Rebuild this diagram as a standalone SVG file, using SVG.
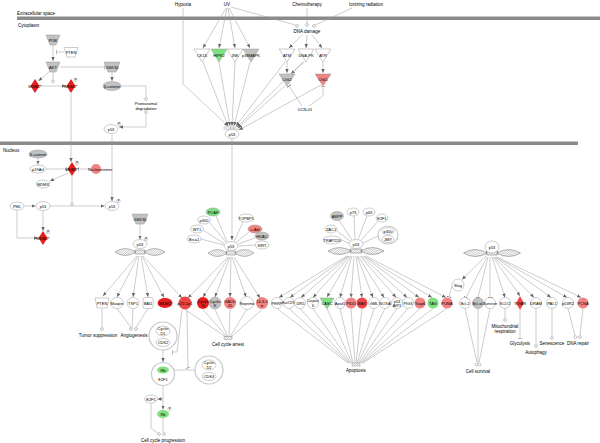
<svg xmlns="http://www.w3.org/2000/svg" width="600" height="443" viewBox="0 0 600 443">
<style>
text{font-family:"Liberation Sans",Arial,sans-serif;font-size:4.5px;fill:#000;text-anchor:middle;dominant-baseline:central}
.s{font-size:4px}
.xs{font-size:2.6px}
.xx{font-size:3px}
.st{text-anchor:start}
.n{fill:#fff;stroke:#9a9a9a;stroke-width:0.5}
.gy{fill:#c2c2c2}
.rd{fill:#e61e1e}
.rm{fill:#ee4747}
.rl{fill:#f28383}
.gn{fill:#7fe27f}
.cx{fill:#fff;stroke:#c8c8c8;stroke-width:1.2}
#connectors path{fill:none;stroke:#9a9a9a;stroke-width:0.5}
.a{marker-end:url(#ar)}
.t{marker-end:url(#tb)}
.mem{fill:#8a8a8a}
.dot{fill:#fff;stroke:#888;stroke-width:0.5}
.pb{fill:#fff;stroke:#999;stroke-width:0.4}
.box{fill:url(#h);stroke:#888;stroke-width:0.4}
</style>
<defs>
<marker id="ar" markerWidth="4" markerHeight="4" refX="4" refY="2" orient="auto" markerUnits="userSpaceOnUse"><path d="M0,0.3 L4,2 L0,3.7 Z" fill="#666"/></marker>
<marker id="tb" markerWidth="1" markerHeight="5" refX="0.5" refY="2.5" orient="auto" markerUnits="userSpaceOnUse"><path d="M0.5,0 V5" stroke="#666" stroke-width="0.8"/></marker>
<pattern id="h" width="1.6" height="1.6" patternUnits="userSpaceOnUse" patternTransform="rotate(45)"><line x1="0" y1="0" x2="0" y2="1.6" stroke="#666" stroke-width="0.55"/></pattern>
<g id="dna"><path d="M-25,0 Q-15,-7 -4,0 Q-15,7 -25,0Z M25,0 Q15,-7 4,0 Q15,7 25,0Z M-5,-2 H5 V2 H-5Z" fill="url(#h)" stroke="#666" stroke-width="0.45"/></g>
</defs>
<rect width="600" height="443" fill="#fff"/>
<!-- membranes -->
<rect class="mem" x="17" y="16.5" width="583" height="3.5"/>
<rect class="mem" x="0" y="141.5" width="578" height="3.5"/>
<text class="st" x="17" y="13">Extracellular space</text>
<text class="st" x="18" y="25">Cytoplasm</text>
<text class="st" x="3" y="150">Nucleus</text>

<g id="connectors">
<path class="a" d="M183,8 V84 L228,126"/>
<path class="a" d="M226,8 L203,48"/>
<path class="a" d="M227,8 L219,48"/>
<path class="a" d="M228,8 L235,48"/>
<path class="a" d="M229,8 L250,48"/>
<path d="M231,7 L295.5,25"/>
<path d="M307,8 V23.5"/>
<path d="M352,8 L315.3,25"/>
<path class="a" d="M302,35 L289,48"/>
<path class="a" d="M307,35 L306,48"/>
<path class="a" d="M312,35 L322,48"/>
<path class="a" d="M287,62 V73"/>
<path class="a" d="M304,62 L291,74"/>
<path class="a" d="M323,62 V73"/>
<path class="t" d="M302,106 L289,86"/>
<path class="t" d="M309,106 L323,96 V86"/>
<path class="a" d="M203,62 L228,126"/>
<path class="a" d="M219,62 L230,126"/>
<path class="a" d="M235,62 L232,126"/>
<path class="a" d="M250,62 L234,126"/>
<path class="a" d="M285,62 L236,126"/>
<path class="a" d="M303,62 L237,127"/>
<path class="a" d="M286,85 L238,128"/>
<path class="a" d="M321,85 L239,130"/>
<path class="a" d="M232,139 V240"/>
<path class="a" d="M53,45 V61"/>
<path class="t" d="M64,52 H56"/>
<path class="t" d="M60,67 H104"/>
<path class="a" d="M112,72 V81"/>
<path d="M121,86 H146 V97.5"/>
<path class="a" d="M146,113.5 V127 H119"/>
<path class="a" d="M50,71 L38.5,81"/>
<path d="M53,72 V80"/>
<path class="a" d="M40,86 H66"/>
<path class="a" d="M71,93 V162"/>
<path class="a" d="M112,134 V201"/>
<path class="a" d="M38,158 V164.5"/>
<path class="t" d="M46,169 H66"/>
<path class="t" d="M91,169 H78"/>
<path class="a" d="M68,173 L50,181"/>
<path d="M72,176 V202.5"/>
<path class="a" d="M50,206 H104.5"/>
<path class="a" d="M24,206 H35.5"/>
<path class="a" d="M17,210 V238 H38"/>
<path class="a" d="M43,210.5 V231"/>
<path class="a" d="M140,224 V239.5"/>
<path class="a" d="M137,256 L103,296"/>
<path class="a" d="M138,256 L117,297"/>
<path class="a" d="M139,256 L133,297"/>
<path class="a" d="M141,256 L148,297"/>
<path class="a" d="M142,256 L164,297.5"/>
<path class="a" d="M143,256 L182,298"/>
<path d="M216,216 L227,241.5"/>
<path d="M209,222 L226,242"/>
<path d="M203,230 L224,243.5"/>
<path d="M201,239 L224,245"/>
<path d="M243,222 L234,241.5"/>
<path d="M249,232 L236,242.5"/>
<path d="M255,238 L238,244"/>
<path d="M255,245 L238.5,246"/>
<path class="a" d="M228,257 L188,298"/>
<path class="a" d="M229,257 L203,297"/>
<path class="a" d="M230,257 L215,297"/>
<path class="a" d="M231,257 L230,297"/>
<path class="a" d="M232,257 L246,297"/>
<path class="a" d="M234,257 L260,298"/>
<path d="M339,220 L352,240"/>
<path d="M354,216 L355,239.5"/>
<path d="M367,216 L358,239.5"/>
<path d="M378,221 L361,240.5"/>
<path d="M337,231 L350,241"/>
<path d="M341,240 L349,243"/>
<path d="M378,236 L363,243"/>
<path class="a" d="M347,256 L279,297.5"/>
<path class="a" d="M348,256 L290,297.5"/>
<path class="a" d="M349,256 L301,297.5"/>
<path class="a" d="M350,256 L313,297.5"/>
<path class="a" d="M351,256 L327,297"/>
<path class="a" d="M352,256 L340,297.5"/>
<path class="a" d="M354,256 L351,297.5"/>
<path class="a" d="M356,256 L362,297.5"/>
<path class="a" d="M357,256 L373,297.5"/>
<path class="a" d="M358,256 L384,297.5"/>
<path class="a" d="M360,256 L396,297.5"/>
<path class="a" d="M361,256 L407,297.5"/>
<path class="a" d="M363,256 L419,297.5"/>
<path class="a" d="M364,256 L432,297.5"/>
<path class="a" d="M366,256 L446,297.5"/>
<path class="a" d="M486,256 L462,279.5"/>
<path class="t" d="M452,286 L449,297"/>
<path class="t" d="M487,257 L466,297.5"/>
<path class="t" d="M488,257 L478,297.5"/>
<path class="t" d="M490,257 L490,297.5"/>
<path class="a" d="M492,257 L505,297.5"/>
<path class="a" d="M493,257 L520,296"/>
<path class="a" d="M494,257 L534,297.5"/>
<path class="a" d="M495,257 L551,297.5"/>
<path class="a" d="M496,257 L567,297.5"/>
<path class="a" d="M497,257 L581,297.5"/>
<path d="M102,309 V327.5"/>
<path d="M117,308.5 L131,327.5"/>
<path d="M133,308.5 L132,327.5"/>
<path d="M148,308.5 L136,327.5"/>
<path d="M185,309.5 L226,337"/>
<path d="M203,309.5 L227,337"/>
<path d="M215,309.5 L228,337"/>
<path d="M230,309.5 L229,337"/>
<path d="M247,309 L230,337"/>
<path d="M262,309.5 L231,337"/>
<path class="t" d="M182,309.5 L177,352 H172"/>
<path class="t" d="M187,309.5 L188,368"/>
<path class="a" d="M163,350 V362"/>
<path class="a" d="M195,370 H170"/>
<path class="a" d="M163,385 V409.5"/>
<path class="a" d="M163,399 H157.5"/>
<path d="M151,403 V428 L157.5,433"/>
<path d="M163,418 V432"/>
<path d="M277,308.5 L348,363"/>
<path d="M289,308.5 L349,363"/>
<path d="M300,308.5 L350,363"/>
<path d="M313,308.5 L351,363"/>
<path d="M327,308.5 L352,363"/>
<path d="M340,308.5 L353,363"/>
<path d="M351,308.5 L355,363"/>
<path d="M362,308.5 L356,363"/>
<path d="M374,308.5 L357,363"/>
<path d="M385,308.5 L358,363"/>
<path d="M397,308.5 L359,363"/>
<path d="M408,308.5 L360,363"/>
<path d="M420,308.5 L361,363"/>
<path d="M433,308.5 L362,363"/>
<path d="M447,308.5 L363,363"/>
<path d="M465,308.5 L477,362.5"/>
<path d="M478,308.5 V362.5"/>
<path d="M490,308.5 L479,362.5"/>
<path d="M505,308.5 V318.5"/>
<path class="t" d="M520,310 V338"/>
<path d="M536,308.5 V344.5"/>
<path d="M552,308.5 V336.5"/>
<path d="M568,308.5 L575,335.5"/>
<path d="M583,308.5 L580,335.5"/>
</g>

<g id="hypoxia"><text x="183" y="4">Hypoxia</text></g>
<g id="uv"><text x="227" y="4">UV</text></g>
<g id="chemo"><text x="307" y="4">Chemotherapy</text></g>
<g id="ionizing"><text x="366" y="4">Ionizing radiation</text></g>
<g id="dna-damage"><circle class="dot" cx="297" cy="26" r="1.4"/><circle class="dot" cx="307" cy="25" r="1.4"/><circle class="dot" cx="314" cy="26" r="1.4"/><text x="307" y="31.5">DNA damage</text></g>

<g id="ck1d"><polygon class="n" points="194,49 210,49 202,62"/><text class="s" x="202" y="55">CK1δ</text></g>
<g id="hipk2"><polygon class="n gn" points="211,49 227,49 219,62"/><text class="s" x="219" y="55">HIPK2</text></g>
<g id="jnk"><polygon class="n" points="227,49 243,49 235,62"/><text class="s" x="235" y="55">JNK</text></g>
<g id="p38"><polygon class="n gy" points="243,49 259,49 251,62"/><text class="s" x="251" y="55">p38MAPK</text></g>
<g id="atm"><polygon class="n" points="279,49 295,49 287,62"/><text class="s" x="287" y="55">ATM</text></g>
<g id="dnapk"><polygon class="n" points="298,49 314,49 306,62"/><text class="s" x="306" y="55">DNA-PK</text></g>
<g id="atr"><polygon class="n" points="315,49 331,49 323,62"/><text class="s" x="323" y="55">ATR</text></g>
<g id="chk2"><polygon class="n gy" points="279,74 295,74 287,86"/><text class="s" x="287" y="79.5">Chk2</text></g>
<g id="chk1"><polygon class="n rl" points="315,74 331,74 323,86"/><text class="s" x="323" y="79.5">Chk1</text></g>
<g id="ucn01"><text class="s" x="305" y="109">UCN-01</text></g>
<g id="p53-cyto"><use href="#dna" transform="translate(232,128) scale(0.35,0.6)"/><ellipse class="n" cx="232" cy="134" rx="7" ry="4.5"/><text class="s" x="232" y="134">p53</text></g>

<g id="pi3k"><polygon class="n gy" points="46,35 60,35 56,45 50,45"/><text class="s" x="53" y="40">PI3K</text></g>
<g id="pten-c"><polygon class="n" points="64,47.5 78,47.5 75,57 67,57" fill="none"/><text class="s" x="71" y="52">PTEN</text></g>
<g id="akt"><polygon class="n gy" points="46,62 60,62 56,72 50,72"/><text class="s" x="53" y="67">AKT</text></g>
<g id="gsk3b-c"><polygon class="n gy" points="104,62 120,62 116,72 108,72"/><text class="s" x="112" y="67">GSK3β</text></g>
<g id="bcat-c"><ellipse class="n gy" cx="112" cy="86" rx="9" ry="4.5"/><text class="s" x="112" y="86">β-catenin</text></g>
<g id="degradation"><circle class="dot" cx="146" cy="99" r="1.4"/><text class="s" x="146" y="103">Proteasomal</text><text class="s" x="146" y="108">degradation</text><circle class="dot" cx="146" cy="112" r="1.4"/></g>
<g id="akt-dot"><circle class="dot" cx="53" cy="81.5" r="1.4"/></g>
<g id="mdm2-a"><polygon class="rd" points="35,79 39.5,86 35,93 30.5,86"/><text class="s" x="35" y="86">MDM2*</text></g>
<g id="mdm2-b"><polygon class="rd" points="71,79 75.5,86 71,93 66.5,86"/><text class="s" x="71" y="86">MDM2*</text><circle class="pb" cx="75.5" cy="80" r="1.8"/><text class="xs" x="75.5" y="80">P</text></g>
<g id="p53-c2"><ellipse class="n" cx="111" cy="129" rx="7" ry="4.5"/><text class="s" x="111" y="129">p53</text><circle class="pb" cx="119" cy="124" r="1.8"/><text class="xs" x="119" y="124">P</text></g>

<g id="bcat-n"><ellipse class="n gy" cx="38" cy="154" rx="9" ry="4"/><text class="s" x="38" y="154">β-catenin</text></g>
<g id="p19arf"><ellipse class="n" cx="38" cy="169" rx="8" ry="4"/><text class="s" x="38" y="169">p19Arf</text></g>
<g id="mdm2-n"><polygon class="rd" points="72,162 76.5,169 72,176 67.5,169"/><text class="s" x="72" y="169">MDM2*</text><circle class="pb" cx="77" cy="163" r="1.8"/><text class="xs" x="77" y="163">P</text></g>
<g id="nucleostemin"><circle class="rl" cx="96" cy="169" r="5"/><text class="s" x="100" y="169">Nucleostemin</text></g>
<g id="mdmx"><ellipse class="n" cx="43" cy="184" rx="7" ry="4"/><text class="s" x="43" y="184">MDMX</text></g>
<g id="pml"><ellipse class="n" cx="17" cy="206" rx="7" ry="4"/><text class="s" x="17" y="206">PML</text></g>
<g id="p53-n1"><ellipse class="n" cx="43" cy="206" rx="7" ry="4.5"/><text class="s" x="43" y="206">p53</text></g>
<g id="mdm2-dot"><circle class="dot" cx="72" cy="204" r="1.4"/></g>
<g id="p53-n2"><ellipse class="n" cx="112" cy="206" rx="7" ry="4.5"/><text class="s" x="112" y="206">p53</text><circle class="pb" cx="118.5" cy="201" r="1.8"/><text class="xs" x="118.5" y="201">P</text></g>
<g id="mdm2-n2"><polygon class="rd" points="43,231 47.5,238 43,245 38.5,238"/><text class="s" x="43" y="238">MDM2*</text><circle class="pb" cx="48" cy="232" r="1.8"/><text class="xs" x="48" y="232">P</text></g>

<g id="gsk3b-n"><polygon class="n gy" points="132,214 148,214 144,224 136,224"/><text class="s" x="140" y="219">GSK3β</text></g>
<g id="p53-g1"><use href="#dna" transform="translate(140,252)"/><ellipse class="n" cx="140" cy="244" rx="7" ry="4.5"/><text class="s" x="140" y="244">p53</text><circle class="pb" cx="146" cy="239" r="1.8"/><text class="xs" x="146" y="239">P</text></g>

<g id="pcaf"><ellipse class="n gn" cx="213" cy="212" rx="7" ry="4"/><text class="s" x="213" y="212">PCAF</text></g>
<g id="p300-a"><ellipse class="n" cx="204" cy="220" rx="6.5" ry="4"/><text class="s" x="204" y="220">p300</text></g>
<g id="wt1"><ellipse class="n" cx="197" cy="229" rx="6.5" ry="4"/><text class="s" x="197" y="229">WT1</text></g>
<g id="brca1"><ellipse class="n" cx="194" cy="239" rx="7" ry="4"/><text class="s" x="194" y="239">Brca1</text></g>
<g id="topbp1"><ellipse class="n" cx="246" cy="218" rx="7.5" ry="4"/><text class="s" x="246" y="218">TOPBP1</text></g>
<g id="cabl"><ellipse class="n rl" cx="255" cy="229" rx="7" ry="4"/><text class="s" x="255" y="229">c-Abl</text></g>
<g id="hdac"><ellipse class="n gy" cx="262" cy="236" rx="7" ry="4"/><text class="s" x="262" y="236">HDAC</text></g>
<g id="sirt"><ellipse class="n" cx="262" cy="245" rx="7" ry="4"/><text class="s" x="262" y="245">SIRT</text></g>
<g id="p53-g2"><use href="#dna" transform="translate(231,253) scale(0.92,1)"/><ellipse class="n" cx="231" cy="246" rx="7" ry="4.5"/><text class="s" x="231" y="246">p53</text></g>

<g id="aspp"><ellipse class="n gy" cx="337" cy="216" rx="6.5" ry="4.5"/><text class="s" x="337" y="216">ASPP</text></g>
<g id="p73"><ellipse class="n" cx="353" cy="212" rx="6" ry="4"/><text class="s" x="353" y="212">p73</text></g>
<g id="p63"><ellipse class="n" cx="369" cy="212" rx="6" ry="4"/><text class="s" x="369" y="212">p63</text></g>
<g id="e2f1-a"><ellipse class="n" cx="382" cy="218" rx="6" ry="4"/><text class="s" x="382" y="218">E2F1</text></g>
<g id="zac1"><ellipse class="n" cx="331" cy="229" rx="6" ry="4"/><text class="s" x="331" y="229">ZAC1</text></g>
<g id="trap220"><ellipse class="n" cx="332" cy="240" rx="9" ry="4"/><text class="s" x="332" y="240">TRAP220</text></g>
<g id="p300-jmy"><ellipse class="cx" cx="388" cy="235" rx="10" ry="9"/><ellipse class="n" cx="388" cy="231" rx="6" ry="3.5"/><text class="s" x="388" y="231">p300</text><ellipse class="n" cx="388" cy="239" rx="6" ry="3.5"/><text class="s" x="388" y="239">JMY</text></g>
<g id="p53-g3"><use href="#dna" transform="translate(356,251) scale(1.12,1)"/><ellipse class="n" cx="356" cy="244" rx="7" ry="4.5"/><text class="s" x="356" y="244">p53</text></g>

<g id="p53-g4"><use href="#dna" transform="translate(492,253) scale(1.14,1)"/><ellipse class="n" cx="492" cy="247" rx="7" ry="6"/><text class="s" x="492" y="247">p53</text></g>
<g id="slug"><circle class="n" cx="458" cy="285" r="6"/><text class="s" x="458" y="285">Slug</text></g>

<g id="pten"><polygon class="n" points="95,298 109,298 107,308 97,308" fill="none"/><text class="s" x="102" y="303">PTEN</text></g>
<g id="maspin"><ellipse class="n" cx="117" cy="303" rx="6.5" ry="5.5"/><text class="s" x="117" y="303">Maspin</text></g>
<g id="tsp1"><ellipse class="n" cx="133" cy="303" rx="6" ry="5.5"/><text class="s" x="133" y="303">TSP1</text></g>
<g id="bai1"><rect class="n" x="143" y="297.5" width="10" height="11" rx="2"/><text class="s" x="148" y="303">BAI1</text></g>
<g id="mdm2-t"><ellipse class="rd" cx="165" cy="303" rx="7.5" ry="5"/><text class="s" x="165" y="303">MDM2</text></g>
<g id="p21"><circle class="rm" cx="185" cy="303" r="6.5"/><text class="s" x="185" y="303">p21Cip1</text></g>
<g id="cycg"><circle class="rd" cx="203" cy="303" r="6"/><text class="s" x="203" y="301">Cyclin</text><text class="s" x="203" y="305.5">G</text></g>
<g id="cyck"><circle class="n gy" cx="215" cy="303" r="6"/><text class="s" x="215" y="301">Cyclin</text><text class="s" x="215" y="305.5">K</text></g>
<g id="gadd45"><circle class="rl" cx="230" cy="303" r="6"/><text class="s" x="230" y="301">GADD</text><text class="s" x="230" y="305.5">45</text></g>
<g id="reprimo"><circle class="n" cx="247" cy="303" r="6.5"/><text class="s" x="247" y="303">Reprimo</text></g>
<g id="s1433"><circle class="rl" cx="262" cy="303" r="6"/><text class="s" x="262" y="301">14-3-3</text><text class="s" x="262" y="305.5">σ</text></g>
<g id="perp"><circle class="n" cx="277" cy="303" r="5.5"/><text class="s" x="277" y="303">PERP</text></g>
<g id="fas"><circle class="n" cx="289" cy="303" r="5.5"/><text class="xx" x="289" y="303">Fas/CD95</text></g>
<g id="dr5"><circle class="n" cx="300" cy="303" r="5.5"/><text class="s" x="300.5" y="303">DR5</text></g>
<g id="casp6"><circle class="n" cx="313" cy="303" r="5.5"/><text class="xx" x="313" y="301">Caspase</text><text class="s" x="313" y="305.5">6</text></g>
<g id="casc"><polygon class="n gn" points="320,298 334,298 327,309"/><text class="s" x="327" y="303">CASC</text></g>
<g id="apaf1"><circle class="n" cx="340" cy="303" r="5.5"/><text class="s" x="340" y="303">Apaf1</text></g>
<g id="pidd"><circle class="rl" cx="351" cy="303" r="5.5"/><text class="s" x="351" y="303">PIDD</text></g>
<g id="bax"><circle class="rm" cx="362" cy="303" r="5.5"/><text class="s" x="362" y="303">BAX</text></g>
<g id="gml"><circle class="n" cx="374" cy="303" r="5.5"/><text class="s" x="374" y="303">GML</text></g>
<g id="noxa"><circle class="n" cx="385" cy="303" r="5.5"/><text class="s" x="385" y="303">NOXA</text></g>
<g id="p53aip1"><circle class="n" cx="397" cy="303" r="5.5"/><text class="s" x="397" y="301">p53</text><text class="s" x="397" y="305.5">AIP1</text></g>
<g id="pig3"><circle class="n" cx="408" cy="303" r="5.5"/><text class="s" x="408" y="303">PIG3</text></g>
<g id="tsap6"><circle class="rl" cx="420" cy="303" r="5.5"/><text class="s" x="420" y="303">Tsap6</text></g>
<g id="tag"><circle class="gn" cx="433" cy="303" r="5.5"/><text class="s" x="433" y="303">TAG</text></g>
<g id="puma"><circle class="rl" cx="447" cy="303" r="5.5"/><text class="s" x="447" y="303">PUMA</text></g>
<g id="bcl2"><circle class="n" cx="465" cy="303" r="5.5"/><text class="s" x="465" y="303">Bcl-2</text></g>
<g id="bclxl"><circle class="n gy" cx="478" cy="303" r="5.5"/><text class="s" x="478" y="303">Bcl-xL</text></g>
<g id="survivin"><circle class="n" cx="490" cy="303" r="5.5"/><text class="s" x="490" y="303">Survivin</text></g>
<g id="sco2"><circle class="n" cx="505" cy="303" r="5.5"/><text class="s" x="505" y="303">SCO2</text></g>
<g id="tigar"><polygon class="rm" points="520,296 524,303 520,310 516,303"/><text class="s" x="520" y="303">TIGAR</text></g>
<g id="dram"><circle class="n" cx="536" cy="303" r="5.5"/><text class="s" x="536" y="303">DRAM</text></g>
<g id="pai1"><circle class="n" cx="552" cy="303" r="5.5"/><text class="s" x="552" y="303">PAI-1</text></g>
<g id="p53r2"><circle class="n" cx="568" cy="303" r="5.5"/><text class="s" x="568" y="303">p53R2</text></g>
<g id="pcna"><circle class="rl" cx="583" cy="303" r="5.5"/><text class="s" x="583" y="303">PCNA</text></g>

<g id="cycd1-cdk2"><circle class="cx" cx="163" cy="336" r="14"/><ellipse class="n" cx="163" cy="331" rx="7" ry="5"/><text class="s" x="163" y="328.5">Cyclin</text><text class="s" x="163" y="333.5">D1</text><ellipse class="n" cx="163" cy="342.5" rx="7" ry="4"/><text class="s" x="163" y="342.5">CDK2</text></g>
<g id="rb-e2f1"><circle class="cx" cx="163" cy="374" r="11.5"/><ellipse class="gn" cx="163" cy="370" rx="6" ry="3.5"/><text class="s" x="163" y="370">Rb</text><text class="s" x="163" y="379">E2F1</text></g>
<g id="cycd2-cdk4"><circle class="cx" cx="209" cy="370" r="14"/><ellipse class="n" cx="209" cy="365" rx="7" ry="5"/><text class="s" x="209" y="362.5">Cyclin</text><text class="s" x="209" y="367.5">D2</text><ellipse class="n" cx="209" cy="376.5" rx="7" ry="4"/><text class="s" x="209" y="376.5">CDK4</text></g>
<g id="e2f1-b"><ellipse class="n" cx="151" cy="399" rx="6.5" ry="4"/><text class="s" x="151" y="399">E2F1</text></g>
<g id="rb-p"><ellipse class="gn" cx="163" cy="414" rx="6" ry="4"/><text class="s" x="163" y="414">Rb</text><circle class="pb" cx="169.5" cy="409" r="1.8"/><text class="xs" x="169.5" y="409">P</text></g>

<g id="tumor-suppression"><circle class="dot" cx="102" cy="329" r="1.4"/><text x="98" y="335">Tumor suppression</text></g>
<g id="angiogenesis"><circle class="dot" cx="131" cy="329" r="1.4"/><circle class="dot" cx="136" cy="329" r="1.4"/><text x="134" y="335">Angiogenesis</text></g>
<g id="cell-cycle-arrest"><rect class="box" x="224" y="336.5" width="8" height="3"/><text x="228" y="344">Cell cycle arrest</text></g>
<g id="cell-cycle-progression"><circle class="dot" cx="159" cy="434" r="1.4"/><circle class="dot" cx="164" cy="434" r="1.4"/><text x="163" y="440">Cell cycle progression</text></g>
<g id="apoptosis"><rect class="box" x="352" y="363" width="8" height="3"/><text x="356" y="370">Apoptosis</text></g>
<g id="cell-survival"><circle class="dot" cx="476.5" cy="364.5" r="1.4"/><circle class="dot" cx="479.5" cy="364.5" r="1.4"/><text x="478" y="371">Cell survival</text></g>
<g id="mito"><circle class="dot" cx="505" cy="320" r="1.4"/><text x="505" y="326">Mitochondrial</text><text x="505" y="331">respiration</text></g>
<g id="glycolysis"><text x="520" y="343">Glycolysis</text></g>
<g id="autophagy"><circle class="dot" cx="536" cy="346" r="1.4"/><text x="536" y="352">Autophagy</text></g>
<g id="senescence"><circle class="dot" cx="552" cy="338" r="1.4"/><text x="552" y="343">Senescence</text></g>
<g id="dna-repair"><circle class="dot" cx="575.5" cy="337" r="1.4"/><circle class="dot" cx="580" cy="337" r="1.4"/><text x="578" y="343">DNA repair</text></g>
</svg>
